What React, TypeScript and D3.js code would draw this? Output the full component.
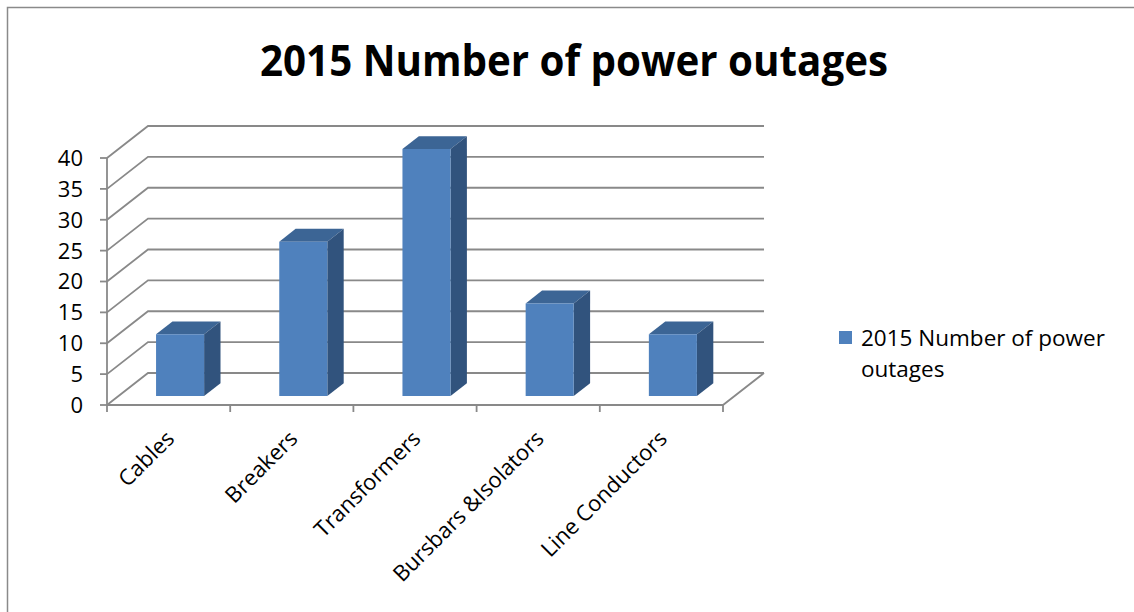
import React from "react";
import * as d3 from "d3";

const categories = ["Cables", "Breakers", "Transformers", "Bursbars &Isolators", "Line Conductors"];
const values = [10, 25, 40, 15, 10];
const yTicks = [0, 5, 10, 15, 20, 25, 30, 35, 40];
const seriesName = "2015 Number of power outages";
const title = "2015 Number of power outages";

const W = 1134;
const H = 612;
const FONT = "'Open Sans', 'DejaVu Sans', sans-serif";

export default function App() {
  const x0 = 107;
  const x1 = 723;
  const depthX = 41;
  const depthY = -32;
  const y = d3.scaleLinear().domain([0, 40]).range([405, 158]);
  const x = d3
    .scaleBand<string>()
    .domain(categories)
    .range([x0, x1])
    .paddingInner(0.61)
    .paddingOuter(0.305);
  const step = x.step();
  const f1 = 0.28;
  const f2 = 0.68;
  const grid = "#898989";

  const gridPaths = yTicks.map((t) => {
    const yy = y(t);
    return `M${x0},${yy} L${x0 + depthX},${yy + depthY} L${x1 + depthX},${yy + depthY}`;
  });

  const bars = categories.map((c, i) => {
    const v = values[i];
    const bx = (x(c) as number) + f1 * depthX;
    const bw = x.bandwidth();
    const yTop = y(v) + f1 * depthY;
    const yBot = y(0) + f1 * depthY;
    const ddx = (f2 - f1) * depthX;
    const ddy = (f2 - f1) * depthY;
    const front = `M${bx},${yTop} L${bx + bw},${yTop} L${bx + bw},${yBot} L${bx},${yBot} Z`;
    const top = `M${bx},${yTop} L${bx + ddx},${yTop + ddy} L${bx + bw + ddx},${yTop + ddy} L${bx + bw},${yTop} Z`;
    const side = `M${bx + bw},${yTop} L${bx + bw + ddx},${yTop + ddy} L${bx + bw + ddx},${yBot + ddy} L${bx + bw},${yBot} Z`;
    return { c, front, top, side };
  });

  const words = seriesName.split(" ");

  return (
    <svg
      width={W}
      height={H}
      style={{ position: "absolute", left: 0, top: 0, background: "#fff" }}
      fontFamily={FONT}
    >
      <rect x={7.5} y={7.5} width={1300} height={800} fill="#fff" stroke="#8a8a8a" strokeWidth={1.5} />
      <text
        x={574}
        y={76}
        textAnchor="middle"
        fontSize={43}
        fontWeight="bold"
        fill="#000"
        textLength={628}
        lengthAdjust="spacingAndGlyphs"
      >
        {title}
      </text>

      {gridPaths.map((p, i) => (
        <path key={i} d={p} fill="none" stroke={grid} strokeWidth={1.8} />
      ))}
      <path
        d={`M${x0},${y(0)} L${x1},${y(0)} L${x1 + depthX},${y(0) + depthY}`}
        fill="none"
        stroke={grid}
        strokeWidth={1.8}
      />
      <line x1={x0} x2={x0} y1={y(0)} y2={y(40)} stroke={grid} strokeWidth={1.8} />
      {yTicks.map((t) => (
        <g key={t}>
          <line x1={x0 - 7} x2={x0} y1={y(t)} y2={y(t)} stroke={grid} strokeWidth={1.8} />
          <text x={83} y={y(t)} dy="0.36em" textAnchor="end" fontSize={22} fill="#000">
            {t}
          </text>
        </g>
      ))}
      {d3.range(categories.length + 1).map((i) => (
        <line
          key={i}
          x1={x0 + i * step}
          x2={x0 + i * step}
          y1={y(0)}
          y2={y(0) + 7}
          stroke={grid}
          strokeWidth={1.8}
        />
      ))}
      {bars.map((b) => (
        <g key={b.c}>
          <path d={b.top} fill="#3C6595" />
          <path d={b.side} fill="#31537D" />
          <path d={b.front} fill="#4F81BD" />
        </g>
      ))}
      {categories.map((c) => {
        const cx = (x(c) as number) + x.bandwidth() / 2;
        const ax = cx + 7;
        const ay = 440;
        return (
          <text
            key={c}
            x={ax}
            y={ay}
            textAnchor="end"
            fontSize={22}
            fill="#000"
            transform={`rotate(-45 ${ax} ${ay})`}
          >
            {c}
          </text>
        );
      })}
      <rect x={839} y={331} width={13} height={13} fill="#4F81BD" />
      <text x={861} y={346} fontSize={22.5} fill="#000">
        {words.slice(0, 4).join(" ")}
      </text>
      <text x={861} y={377} fontSize={22.5} fill="#000">
        {words.slice(4).join(" ")}
      </text>
    </svg>
  );
}
